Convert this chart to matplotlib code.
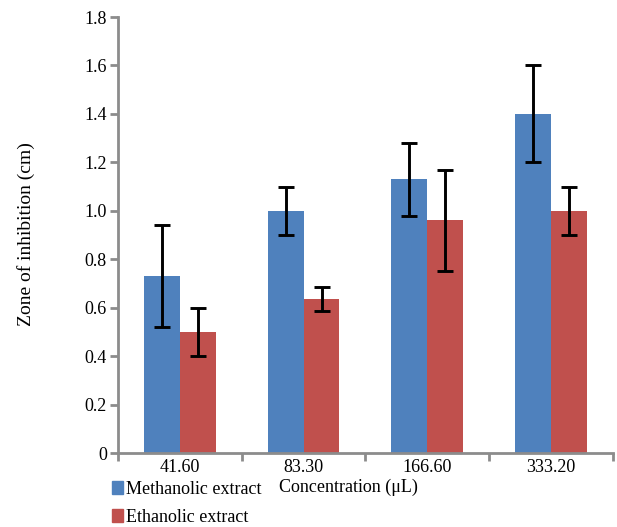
import matplotlib.pyplot as plt
from matplotlib.patches import Patch
import numpy as np

# data
concentrations = ['41.60', '83.30', '166.60', '333.20']
methanolic = [0.73, 1.00, 1.13, 1.40]
methanolic_err = [0.21, 0.10, 0.15, 0.20]
ethanolic = [0.50, 0.635, 0.96, 1.00]
ethanolic_err = [0.10, 0.05, 0.21, 0.10]

blue = '#4F81BD'
red = '#C0504D'
grey = '#8C8C8C'

plt.rcParams['font.family'] = ['Liberation Serif', 'DejaVu Serif']

fig = plt.figure(figsize=(6.17, 5.27), dpi=100)
ax = fig.add_axes([0.1912, 0.1404, 0.8023, 0.8273])

x = np.arange(len(concentrations)) + 0.5
w = 0.29
err_kw = dict(ecolor='black', elinewidth=2.1, capsize=5.5, capthick=2.1)
ax.bar(x - w / 2, methanolic, w, color=blue, yerr=methanolic_err,
       error_kw=err_kw, label='Methanolic extract')
ax.bar(x + w / 2, ethanolic, w, color=red, yerr=ethanolic_err,
       error_kw=err_kw, label='Ethanolic extract')

ax.set_xlim(0, len(concentrations))
ax.set_ylim(0, 1.8)
ax.set_yticks(np.arange(0, 1.81, 0.2))
ax.set_yticklabels(['0'] + [f'{v:.1f}' for v in np.arange(0.2, 1.81, 0.2)])

# category boundaries get the tick marks, labels sit in between
ax.set_xticks(np.arange(len(concentrations) + 1))
ax.set_xticklabels([])
ax.set_xticks(x, minor=True)
ax.set_xticklabels(concentrations, minor=True)
ax.tick_params(axis='x', which='minor', length=0, pad=4, labelsize=13)
ax.tick_params(axis='x', which='major', length=6, width=2, color=grey)
ax.tick_params(axis='y', length=6, width=2, color=grey, labelsize=13, pad=2)

for s in ['top', 'right']:
    ax.spines[s].set_visible(False)
for s in ['left', 'bottom']:
    ax.spines[s].set_color(grey)
    ax.spines[s].set_linewidth(2)

fig.text(0.042, 0.556, 'Zone of inhibition (cm)', rotation=90,
         ha='center', va='center', fontsize=14)
fig.text(0.564, 0.076, 'Concentration (\u03bcL)', ha='center', va='center', fontsize=13)

handles = [Patch(color=blue), Patch(color=red)]
fig.legend(handles, ['Methanolic extract', 'Ethanolic extract'],
           loc='upper left', bbox_to_anchor=(0.1815, 0.0873), frameon=False,
           fontsize=13, handlelength=0.6, handleheight=0.7, handletextpad=0.17,
           labelspacing=0.6, borderaxespad=0, borderpad=0)

fig.savefig('out.png', dpi=100)
